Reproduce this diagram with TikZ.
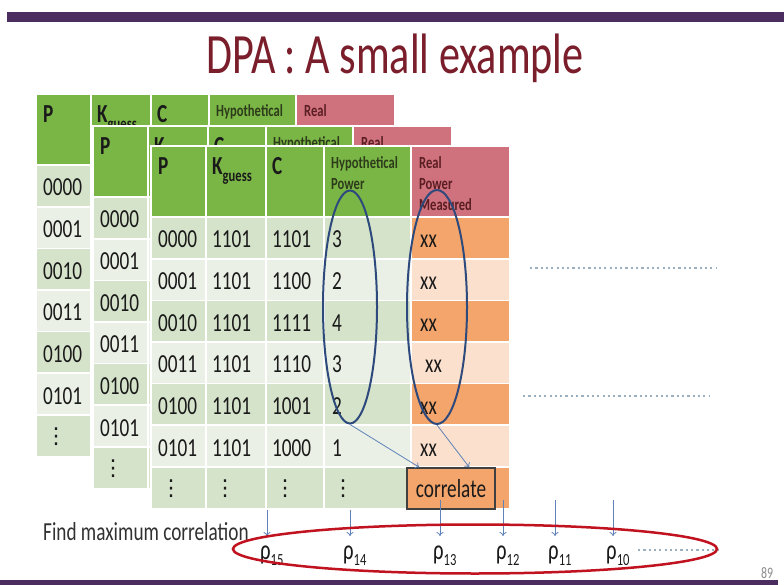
\documentclass[tikz,border=0pt]{standalone}
\usepackage{fontspec}
\setmainfont{Carlito}[FakeStretch=0.74]
\newfontfamily\dotsfont{DejaVu Sans}
\usetikzlibrary{arrows.meta,shapes.geometric}

\definecolor{barpurple}{HTML}{4B2D5F}
\definecolor{titlered}{HTML}{7A1E2B}
\definecolor{hdgreen}{HTML}{7AB646}
\definecolor{hdpink}{HTML}{D0717E}
\definecolor{rowdark}{HTML}{D5E3CA}
\definecolor{rowlight}{HTML}{EAF0E5}
\definecolor{orgdark}{HTML}{F4A56B}
\definecolor{orglight}{HTML}{FBE1CD}
\definecolor{hyptext}{HTML}{2D3B1A}
\definecolor{realtext}{HTML}{5A1E22}
\definecolor{inktext}{HTML}{1A1A1A}
\definecolor{ringblue}{HTML}{2E4A7D}
\definecolor{arrblue}{HTML}{5F82B8}
\definecolor{ringred}{HTML}{C0121F}
\definecolor{dotgrey}{HTML}{9AAFC0}
\definecolor{pagegrey}{HTML}{8A8A8A}

\newcommand{\fsz}[2]{\fontsize{#1}{#2}\selectfont}
\newcommand{\vdotcell}{{\dotsfont\fsz{22}{22}⋮}}

% one layer of the stacked tables: header, coloured rows, P column
\newcommand{\tablelayer}[3]{%
  \begin{scope}[shift={(#2,#3)}]
    \fill[white] (-2,-2) rectangle (359,363);
    \foreach \a/\b in {0/53,55/113,115/171,173/258}
      \fill[fill=hdgreen] (\a,0) rectangle (\b,69);
    \fill[fill=hdpink] (260,0) rectangle (357,69);
    \foreach \r in {0,...,6}{
      \ifodd\r \def\gc{rowlight}\def\oc{orglight}\else \def\gc{rowdark}\def\oc{orgdark}\fi
      \foreach \a/\b in {0/53,55/113,115/171,173/258}
        \fill[fill=\gc] (\a,71+41.6*\r) rectangle (\b,111+41.6*\r);
      \fill[fill=\oc] (260,71+41.6*\r) rectangle (357,111+41.6*\r);
    }
    \node[bigtext, font={\fsz{26}{30}\bfseries}] (#1P) at (6,28) {P};
    \node[bigtext, font={\fsz{26}{30}\bfseries}] (#1K) at (60,28) {K\raisebox{-7pt}{\fsz{17}{19}guess}};
    \node[bigtext, font={\fsz{26}{30}\bfseries}] (#1C) at (120,28) {C};
    \node[hdtext, text=hyptext] (#1H) at (179,9) {Hypothetical\\Power};
    \node[hdtext, text=realtext] (#1R) at (267,9) {Real\\Power\\Measured};
    \foreach \p [count=\i from 0] in {0000,0001,0010,0011,0100,0101}
      \node[celltext] (#1p\i) at (6,101+41.6*\i) {\p};
    \node[celltext] (#1p6) at (8,99+41.6*6) {\vdotcell};
  \end{scope}}

\begin{document}
\begin{tikzpicture}[
    x=1pt, y=-1pt,
    bigtext/.style={anchor=base west, inner sep=0pt, text=inktext},
    celltext/.style={anchor=base west, inner sep=0pt, text=inktext, font=\fsz{26}{30}},
    hdtext/.style={anchor=north west, inner sep=0pt, align=left, font={\fsz{17}{21}\bfseries}},
    ring/.style={draw=ringblue, line width=2pt, ellipse, inner sep=0pt},
    arr/.style={draw=arrblue, line width=0.8pt, -{To[length=4pt,width=7pt]}},
    dotline/.style={draw=dotgrey, line width=2pt, dash pattern=on 2.2pt off 3.1pt},
    rho/.style={anchor=base west, inner sep=0pt, text=inktext, font=\fsz{28}{32}},
  ]
  \useasboundingbox (0,0) rectangle (784,585);
  \fill[white] (0,0) rectangle (784,585);

  % slide frame
  \fill[barpurple] (7,12) rectangle (784,22);
  \fill[barpurple] (0,580) rectangle (778,585);
  \node[anchor=base, text=titlered, font=\fsz{57}{64}] (title) at (395,74) {DPA : A small example};
  \node[anchor=base, text=pagegrey, font=\fsz{16}{18}] (pgno) at (767,578) {89};

  % three stacked tables, front one last
  \tablelayer{ta}{37}{95}
  \tablelayer{tb}{94}{127}
  \tablelayer{tc}{152}{147}

  \begin{scope}[shift={(152,147)}]
    \foreach \k/\c/\h/\s [count=\i from 0] in {1101/1101/3/0,1101/1100/2/0,1101/1111/4/0,1101/1110/3/5,1101/1001/2/0,1101/1000/1/0}{
      \node[celltext] (tck\i) at (60,101+41.6*\i) {\k};
      \node[celltext] (tcc\i) at (120,101+41.6*\i) {\c};
      \node[celltext] (tch\i) at (180,101+41.6*\i) {\h};
      \node[celltext] (tcr\i) at (268+\s,101+41.6*\i) {xx};
    }
    \node[celltext] (tck6) at (62,99+41.6*6) {\vdotcell};
    \node[celltext] (tcc6) at (122,99+41.6*6) {\vdotcell};
    \node[celltext] (tch6) at (180,99+41.6*6) {\vdotcell};
  \end{scope}

  % columns that get correlated
  \node[ring, minimum width=54, minimum height=233] (hypring) at (350,307) {};
  \node[ring, minimum width=60, minimum height=234] (realring) at (437,307) {};
  \node[draw=black!75, line width=1.5pt, fill=orgdark, minimum width=88, minimum height=41,
        inner sep=0pt, font=\fsz{26}{30}, text=inktext] (corr) at (451,488.5) {correlate};
  \draw[arr] (hypring.south) -- ([xshift=13pt]corr.north west);
  \draw[arr] (realring.south) -- ([xshift=63pt]corr.north west);

  % more key guesses
  \coordinate (dotA1) at (530,268);
  \coordinate (dotA2) at (716,268);
  \coordinate (dotB1) at (523,396);
  \coordinate (dotB2) at (709,396);
  \draw[dotline] (dotA1) -- (dotA2);
  \draw[dotline] (dotB1) -- (dotB2);

  % correlation per key guess
  \node[anchor=base west, inner sep=0pt, text=inktext!90, font=\fsz{26}{30}] (findtxt) at (43,540) {Find maximum correlation};
  \foreach \n/\x/\y in {15/267/510,14/350/510,13/440/500,12/503/500,11/555/500,10/613/500}{
    \coordinate (from\n) at (\x,\y);
    \coordinate (to\n) at (\x,536);
    \draw[arr] (from\n) -- (to\n);
    \node[rho] (rho\n) at (\x-7,559) {ρ\raisebox{-6pt}{\fsz{17}{19}\n}};
  }
  \coordinate (dotC1) at (638,550);
  \coordinate (dotC2) at (718,550);
  \draw[dotline] (dotC1) -- (dotC2);
  \node[draw=ringred, line width=2.5pt, ellipse, inner sep=0pt, minimum width=484, minimum height=49] (maxring) at (475,549) {};
\end{tikzpicture}
\end{document}
